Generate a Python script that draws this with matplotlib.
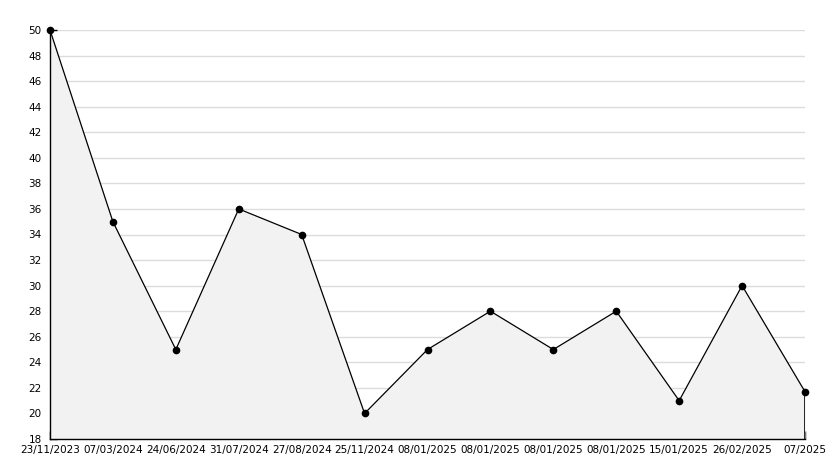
import matplotlib
matplotlib.use("Agg")
import matplotlib.pyplot as plt
from matplotlib.ticker import MultipleLocator

labels = ["23/11/2023", "07/03/2024", "24/06/2024", "31/07/2024", "27/08/2024",
          "25/11/2024", "08/01/2025", "08/01/2025", "08/01/2025", "08/01/2025",
          "15/01/2025", "26/02/2025", "07/2025"]
values = [50, 35, 25, 36, 34, 20, 25, 28, 25, 28, 21, 30, 21.7]
y_min, y_max = 18, 50

W, H = 834, 468
fig = plt.figure(figsize=(W / 100, H / 100), dpi=100)
ax = fig.add_axes([50 / W, 1 - 439 / H, (805 - 50) / W, (439 - 30) / H])

x = list(range(len(values)))
ax.fill_between(x, values, y_min, color="#f2f2f2", zorder=1, linewidth=0)
ax.plot(x, values, color="black", linewidth=0.9, marker="o", markersize=4.5,
        zorder=3, clip_on=False)
ax.vlines(x[-1], y_min, values[-1], color="black", linewidth=1.2, zorder=3)

ax.set_xlim(x[0], x[-1])
ax.set_ylim(y_min, y_max)
ax.set_xticks(x)
ax.set_xticklabels(labels)
ax.yaxis.set_major_locator(MultipleLocator(2))
ax.yaxis.set_minor_locator(MultipleLocator(1))

ax.grid(axis="y", which="major", color="#dcdcdc", linewidth=1, zorder=0)
ax.set_axisbelow(True)

for s in ["top", "right"]:
    ax.spines[s].set_visible(False)
for s in ["left", "bottom"]:
    ax.spines[s].set_color("black")
    ax.spines[s].set_linewidth(1)

ax.tick_params(axis="y", which="major", direction="in", length=5, width=1,
               labelsize=7.5, pad=6)
ax.tick_params(axis="y", which="minor", direction="in", length=3, width=1)
ax.tick_params(axis="x", which="major", direction="in", length=6, width=1,
               labelsize=7.5, pad=4.5)

fig.savefig("out.png", dpi=100, facecolor="white")
